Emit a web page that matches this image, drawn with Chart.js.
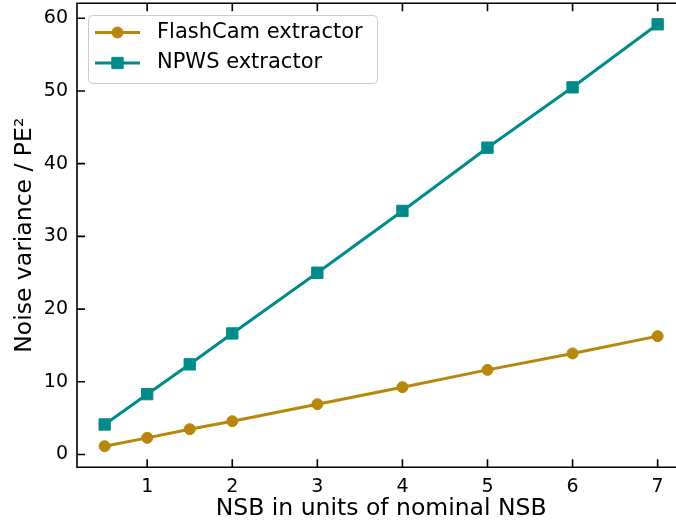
<!DOCTYPE html>
<html>
<head>
<meta charset="utf-8">
<script src="https://cdn.jsdelivr.net/npm/chart.js@4"></script>
<style>
  html, body { margin: 0; padding: 0; background: #fff; overflow: hidden; }
  #wrap { position: relative; width: 700px; height: 524px; }
</style>
</head>
<body>
<div id="wrap"><canvas id="myChart" width="700" height="524"></canvas></div>
<script>
// NSB level (units of nominal NSB) and noise variance for each extractor
const nsb = [0.5, 1, 1.5, 2, 3, 4, 5, 6, 7];
const flashcam = [1.14, 2.29, 3.48, 4.58, 6.92, 9.26, 11.64, 13.9, 16.28];
const npws = [4.13, 8.3, 12.4, 16.65, 25.0, 33.5, 42.2, 50.5, 59.17];
const xTicks = [1, 2, 3, 4, 5, 6, 7];
const yTicks = [0, 10, 20, 30, 40, 50, 60];

const gold = "#b8860b";
const teal = "#008b8b";
const fuente = "'DejaVu Sans', sans-serif";

function serie(label, valores, color, estilo, radio) {
    return {
        label: label,
        data: nsb.map((x, i) => ({ x: x, y: valores[i] })),
        borderColor: color,
        backgroundColor: color,
        borderWidth: 3,
        pointStyle: estilo,
        pointRadius: radio,
        pointHoverRadius: radio,
        pointBorderWidth: 1,
        pointBorderColor: color,
        pointBackgroundColor: color,
        tension: 0
    };
}

const datasets = [
    serie("FlashCam extractor", flashcam, gold, "circle", 5.5),
    serie("NPWS extractor", npws, teal, "rect", 8)
];

// left/top/bottom frame, inward ticks and the boxed legend inside the plot
const marco = {
    id: "marco",
    afterDatasetsDraw(chart) {
        const { ctx, chartArea: a, scales: { x, y } } = chart;
        const largo = 8;
        ctx.save();
        ctx.strokeStyle = "#000";
        ctx.lineWidth = 1.6;
        ctx.beginPath();
        xTicks.forEach(v => {
            const px = x.getPixelForValue(v);
            ctx.moveTo(px, a.bottom); ctx.lineTo(px, a.bottom - largo);
            ctx.moveTo(px, a.top); ctx.lineTo(px, a.top + largo);
        });
        yTicks.forEach(v => {
            const py = y.getPixelForValue(v);
            ctx.moveTo(a.left, py); ctx.lineTo(a.left + largo, py);
        });
        ctx.moveTo(a.right, a.top); ctx.lineTo(a.left, a.top);
        ctx.lineTo(a.left, a.bottom); ctx.lineTo(a.right, a.bottom);
        ctx.stroke();
        ctx.restore();
    },
    afterDraw(chart) {
        const ctx = chart.ctx;
        ctx.save();
        ctx.beginPath();
        ctx.roundRect(88.5, 15.5, 289, 68, 4);
        ctx.fillStyle = "rgba(255,255,255,0.8)";
        ctx.fill();
        ctx.strokeStyle = "#cccccc";
        ctx.lineWidth = 1;
        ctx.stroke();

        const filas = [32.5, 63];
        chart.data.datasets.forEach((ds, i) => {
            const yy = filas[i];
            ctx.strokeStyle = ds.borderColor;
            ctx.fillStyle = ds.borderColor;
            ctx.lineWidth = 3;
            ctx.beginPath();
            ctx.moveTo(95, yy);
            ctx.lineTo(140, yy);
            ctx.stroke();
            ctx.lineWidth = 1;
            Chart.helpers.drawPoint(ctx, {
                pointStyle: ds.pointStyle,
                radius: ds.pointRadius,
                rotation: 0,
                borderWidth: 1
            }, 117.5, yy);
            ctx.fillStyle = "#000";
            ctx.font = "21px " + fuente;
            ctx.textBaseline = "middle";
            ctx.textAlign = "left";
            ctx.fillText(ds.label, 157, yy);
        });
        ctx.restore();
    }
};

// no extra room for half-labels at the axis ends
function sinRelleno(s) {
    s.paddingTop = 0;
    s.paddingBottom = 0;
    s.paddingLeft = 0;
    s.paddingRight = 0;
}

const chart = new Chart("myChart", {
    type: "line",
    data: { datasets: datasets },
    options: {
        responsive: false,
        animation: false,
        events: [],
        layout: { autoPadding: false, padding: { top: 3.2, right: 14.7, left: 0, bottom: 0 } },
        plugins: { legend: { display: false }, tooltip: { enabled: false } },
        scales: {
            x: {
                type: "linear",
                min: 0.175,
                max: 7.325,
                afterBuildTicks: s => { s.ticks = xTicks.map(v => ({ value: v })); },
                afterFit: s => { s.height = 56.7; sinRelleno(s); },
                grid: { display: false, drawTicks: false },
                border: { display: false },
                ticks: {
                    color: "#000",
                    font: { family: fuente, size: 19 },
                    padding: 8,
                    maxRotation: 0,
                    autoSkip: false
                },
                title: {
                    display: true,
                    text: "NSB in units of nominal NSB",
                    color: "#000",
                    font: { family: fuente, size: 23.5 },
                    padding: { top: 0, bottom: 1 }
                }
            },
            y: {
                type: "linear",
                min: -1.76,
                max: 62.07,
                afterBuildTicks: s => { s.ticks = yTicks.map(v => ({ value: v })); },
                afterFit: s => { s.width = 77; sinRelleno(s); },
                grid: { display: false, drawTicks: false },
                border: { display: false },
                ticks: {
                    color: "#000",
                    font: { family: fuente, size: 19 },
                    padding: 9,
                    autoSkip: false
                },
                title: {
                    display: true,
                    text: "Noise variance / PE²",
                    color: "#000",
                    font: { family: fuente, size: 23.5 },
                    padding: { top: 11, bottom: 0 }
                }
            }
        }
    },
    plugins: [marco]
});
</script>
</body>
</html>
